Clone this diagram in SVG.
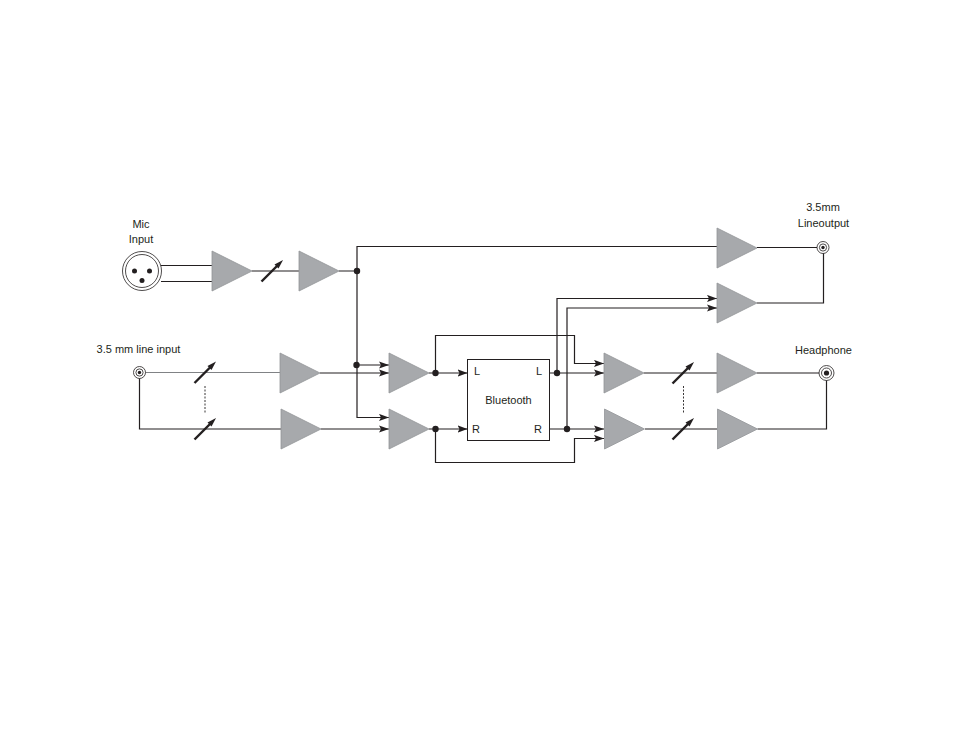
<svg xmlns="http://www.w3.org/2000/svg" width="954" height="737" viewBox="0 0 954 737">
<style>
.w{fill:none;stroke:#231f20;stroke-width:1.2}
.amp{fill:#a7a9ac;stroke:#939598;stroke-width:.8}
.dot{fill:#231f20}
.ring{fill:#fff;stroke:#231f20;stroke-width:.8}
.pot{fill:none;stroke:#231f20;stroke-width:2.4}
.t{font-family:"Liberation Sans",Arial,sans-serif;font-size:11px;fill:#231f20;text-anchor:middle}
</style>
<defs>
<marker id="a" markerUnits="userSpaceOnUse" markerWidth="11" markerHeight="8" refX="10" refY="4" orient="auto"><path d="M0 .4L10 4L0 7.600L2 4Z" fill="#231f20"/></marker>
<g id="tri"><path class="amp" d="M0 0L40 20L0 40Z"/></g>
<g id="p"><path class="pot" d="M-10.500 10.500L6 -6"/><path d="M11 -11L2.500 -6.500L6.500 -2.500Z" fill="#231f20"/></g>
</defs>
<rect width="954" height="737" fill="#fff"/>
<g id="connectors">
<path class="w" d="M161 265.500H212M161 281.500H212M252 271H299M339 271H357"/>
<path class="w" d="M357 271V246.500H717M757 247.500H823"/>
<path class="w" d="M357 271V417.500H389" marker-end="url(#a)"/>
<path class="w" d="M356.500 365H389" marker-end="url(#a)"/>
<path d="M145 372.500H280" fill="none" stroke="#808285" stroke-width="1.200"/>
<path class="w" d="M320 373H389" marker-end="url(#a)"/>
<path class="w" d="M139.500 378V429H281M321 429H389" marker-end="url(#a)"/>
<path class="w" d="M429 373H467.500" marker-end="url(#a)"/>
<path class="w" d="M429 429H467.500" marker-end="url(#a)"/>
<path class="w" d="M435.500 373V335.500H574.500V363.500H604" marker-end="url(#a)"/>
<path class="w" d="M435.500 429V462.500H574.500V438.500H604" marker-end="url(#a)"/>
<path class="w" d="M549.500 373H604" marker-end="url(#a)"/>
<path class="w" d="M549.500 429H604" marker-end="url(#a)"/>
<path class="w" d="M557 373V298.500H717" marker-end="url(#a)"/>
<path class="w" d="M567 429V308H717" marker-end="url(#a)"/>
<path class="w" d="M644 373H717M757 373H827M645 429H717M757.500 429H826.500V378M757 303H823.500V252"/>
<path d="M205 386V414M683.500 386V414" fill="none" stroke="#231f20" stroke-width=".9" stroke-dasharray="2 1.500"/>
</g>
<g id="mic-input">
<circle class="ring" cx="142" cy="271" r="19.500"/><circle class="ring" cx="142" cy="271" r="16.500"/>
<circle class="dot" cx="134.500" cy="271" r="2.500"/><circle class="dot" cx="149.500" cy="271" r="2.500"/><circle class="dot" cx="142" cy="280.500" r="2.500"/>
<text class="t" x="141" y="228">Mic</text><text class="t" x="141" y="243">Input</text>
</g>
<g id="line-input">
<circle class="ring" cx="139.500" cy="372.500" r="6"/><circle class="ring" cx="139.500" cy="372.500" r="3.600"/><circle class="dot" cx="139.500" cy="372.500" r="1.700"/>
<text class="t" x="138.500" y="352.500">3.5 mm line input</text>
</g>
<g id="line-output">
<circle class="ring" cx="823" cy="247.500" r="6"/><circle class="ring" cx="823" cy="247.500" r="3.600"/><circle class="dot" cx="823" cy="247.500" r="1.700"/>
<text class="t" x="823" y="211">3.5mm</text><text class="t" x="823.500" y="226.500">Lineoutput</text>
</g>
<g id="headphone">
<circle class="ring" cx="826.500" cy="373" r="7.500"/><circle class="ring" cx="826.500" cy="373" r="5"/><circle class="dot" cx="826.500" cy="373" r="2.600"/>
<text class="t" x="823.500" y="353.500">Headphone</text>
</g>
<g id="amp-mic-1"><use href="#tri" x="212" y="251"/></g>
<g id="amp-mic-2"><use href="#tri" x="299" y="251"/></g>
<g id="amp-line-1"><use href="#tri" x="280" y="353"/></g>
<g id="amp-line-2"><use href="#tri" x="281" y="409"/></g>
<g id="amp-mix-1"><use href="#tri" x="389" y="353"/></g>
<g id="amp-mix-2"><use href="#tri" x="389" y="409"/></g>
<g id="amp-out-1"><use href="#tri" x="604" y="353"/></g>
<g id="amp-out-2"><use href="#tri" x="604.500" y="409"/></g>
<g id="amp-hp-1"><use href="#tri" x="717" y="353"/></g>
<g id="amp-hp-2"><use href="#tri" x="717.500" y="409"/></g>
<g id="amp-lo-1"><use href="#tri" x="717" y="228"/></g>
<g id="amp-lo-2"><use href="#tri" x="717" y="283"/></g>
<g id="pots">
<use href="#p" x="272" y="271"/><use href="#p" x="205" y="372.500"/><use href="#p" x="205" y="429"/><use href="#p" x="683" y="373"/><use href="#p" x="683" y="429"/>
</g>
<g id="bluetooth">
<rect x="467.500" y="359.500" width="82" height="81" fill="#fff" stroke="#231f20" stroke-width="1"/>
<text class="t" x="477" y="374.500">L</text><text class="t" x="539" y="374.500">L</text>
<text class="t" x="508.500" y="403.500">Bluetooth</text>
<text class="t" x="476" y="432.500">R</text><text class="t" x="538" y="432.500">R</text>
</g>
<g id="junctions">
<circle class="dot" cx="357" cy="271" r="3.200"/><circle class="dot" cx="356.500" cy="365" r="3.200"/>
<circle class="dot" cx="435.500" cy="373" r="3.200"/><circle class="dot" cx="435.500" cy="429" r="3.200"/>
<circle class="dot" cx="557" cy="373" r="3.200"/><circle class="dot" cx="567" cy="429" r="3.200"/>
</g>
</svg>
